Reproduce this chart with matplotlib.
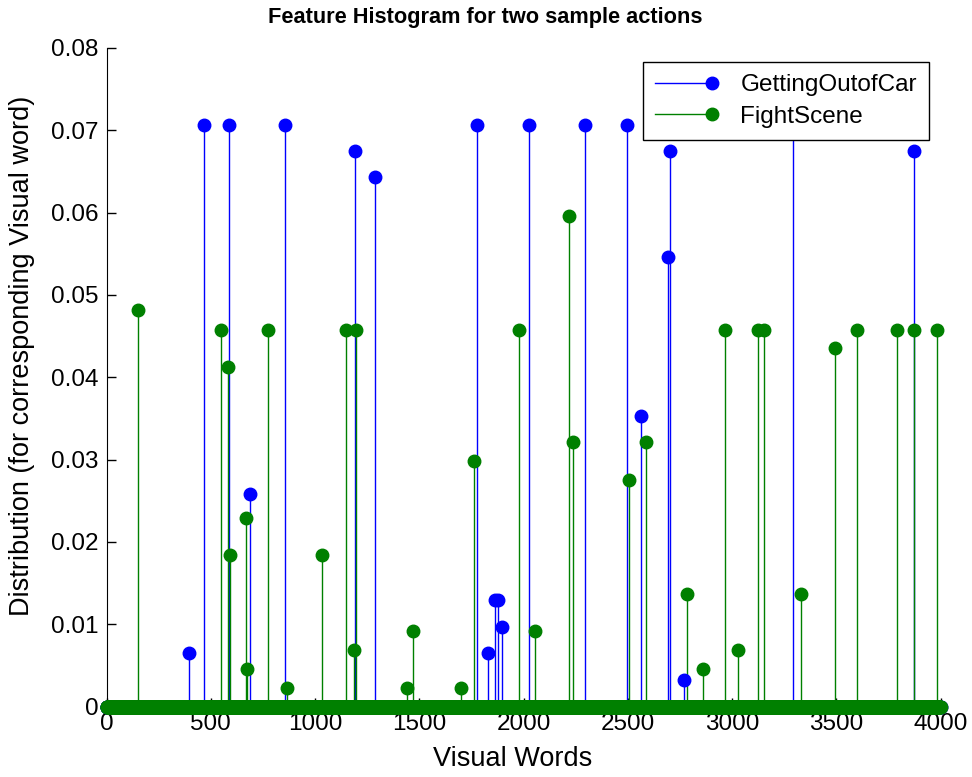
import numpy as np
import matplotlib
matplotlib.use("Agg")
import matplotlib.pyplot as plt
from matplotlib.lines import Line2D
from matplotlib.legend_handler import HandlerBase

plt.rcParams['font.family'] = ['Liberation Sans', 'DejaVu Sans']

n_words = 4000

# GettingOutofCar: bins with a non-zero value
car_words = [397, 466, 586, 688, 858, 1192, 1288, 1778, 1831, 1863, 1879, 1895,
             2025, 2293, 2495, 2562, 2695, 2701, 2770, 3293, 3871]
car_vals = [0.0065, 0.0707, 0.0707, 0.0258, 0.0707, 0.0675, 0.0643, 0.0707, 0.0065, 0.0129, 0.0129, 0.0097,
            0.0707, 0.0707, 0.0707, 0.0353, 0.0546, 0.0675, 0.0032, 0.0707, 0.0675]

# FightScene: bins with a non-zero value
fight_words = [150, 551, 585, 590, 669, 672, 773, 864, 1035, 1149, 1185, 1197, 1440, 1471, 1702, 1764,
               1980, 2057, 2218, 2239, 2507, 2586, 2784, 2862, 2968, 3030, 3123, 3153, 3329, 3492,
               3599, 3791, 3875, 3984]
fight_vals = [0.0482, 0.0458, 0.0413, 0.0184, 0.0229, 0.0046, 0.0458, 0.0023, 0.0184, 0.0458, 0.0069,
              0.0458, 0.0023, 0.0092, 0.0023, 0.0298, 0.0458, 0.0092, 0.0596, 0.0321, 0.0275, 0.0321,
              0.0137, 0.0046, 0.0458, 0.0069, 0.0458, 0.0458, 0.0137, 0.0435, 0.0458, 0.0458, 0.0458,
              0.0458]

labels = ['GettingOutofCar', 'FightScene']
blue = (0, 0, 1)
green = (0, 0.5, 0)

words = np.arange(1, n_words + 1)
car = np.zeros(n_words)
car[np.array(car_words) - 1] = car_vals
fight = np.zeros(n_words)
fight[np.array(fight_words) - 1] = fight_vals


class StemKey(HandlerBase):
    # legend key like matlab's stem: a line with the dot at its right end
    def create_artists(self, legend, orig, xd, yd, w, h, fs, trans):
        y = h / 2 - yd
        c = orig.get_color()
        line = Line2D([-xd, w - xd], [y, y], color=c, lw=1, transform=trans)
        dot = Line2D([w - xd], [y], color=c, marker='o', markersize=9, transform=trans)
        return [line, dot]


fig = plt.figure(figsize=(9.72, 7.77), dpi=100)
ax = fig.add_axes([106.5 / 972, 1 - 706.5 / 777, 834 / 972, 658.5 / 777])

for hist, col in ((car, blue), (fight, green)):
    markerline, stemlines, baseline = ax.stem(words, hist)
    stemlines.set_color(col)
    stemlines.set_linewidth(1.0)
    markerline.set_color(col)
    markerline.set_markersize(9)
    markerline.set_clip_on(False)
    markerline.set_zorder(3)
    baseline.set_visible(False)

ax.set_xlim(0, 4000)
ax.set_ylim(0, 0.08)
ax.set_xticks(np.arange(0, 4001, 500))
ax.set_yticks(np.arange(0, 0.081, 0.01))
ax.set_yticklabels(['0', '0.01', '0.02', '0.03', '0.04', '0.05', '0.06', '0.07', '0.08'])
ax.tick_params(direction='in', length=6.5, width=1, labelsize=17.5, colors='black')
ax.tick_params(axis='x', pad=5)
ax.tick_params(axis='y', pad=6)
ax.spines['top'].set_visible(False)
ax.spines['right'].set_visible(False)

fig.text(485 / 972, 1 - 18 / 777, 'Feature Histogram for two sample actions', ha='center', va='center',
         fontsize=15.7, fontweight='bold')
fig.text(513 / 972, 1 - 759 / 777, 'Visual Words', ha='center', va='center', fontsize=19.5)
fig.text(22 / 972, 1 - 356 / 777, 'Distribution (for corresponding Visual word)', ha='center',
         va='center', rotation=90, fontsize=19.5)

handles = [Line2D([], [], color=c) for c in (blue, green)]
leg = ax.legend(handles, labels, loc='upper right', bbox_to_anchor=(929 / 972, 1 - 62 / 777),
                bbox_transform=fig.transFigure, borderaxespad=0, fontsize=17.5,
                handler_map={Line2D: StemKey()},
                handlelength=2.35, handletextpad=1.15, labelspacing=0.4, borderpad=0.5,
                fancybox=False, framealpha=1, edgecolor='black')
leg.get_frame().set_linewidth(1)

fig.savefig('out.png', dpi=100)
